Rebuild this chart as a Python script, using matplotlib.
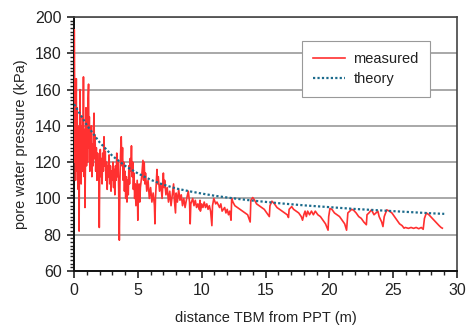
import matplotlib
matplotlib.use("Agg")
import matplotlib.pyplot as plt
from matplotlib.ticker import MultipleLocator

plt.rcParams['font.family'] = ['Liberation Sans', 'DejaVu Sans']

# measured pore water pressure (distance m, kPa)
meas_x = [0.00, 0.02, 0.04, 0.06, 0.08, 0.10, 0.12, 0.15, 0.18, 0.20, 0.23, 0.26, 0.30, 0.33, 0.36,
          0.40, 0.43, 0.47, 0.50, 0.53, 0.56, 0.60, 0.63, 0.66, 0.70, 0.74, 0.77, 0.80, 0.84, 0.86,
          0.90, 0.94, 0.98, 1.02, 1.06, 1.10, 1.14, 1.17, 1.20, 1.24, 1.28, 1.32, 1.36, 1.40, 1.45,
          1.50, 1.54, 1.57, 1.60, 1.65, 1.70, 1.75, 1.80, 1.85, 1.90, 1.95, 1.98, 2.02, 2.06, 2.10,
          2.15, 2.20, 2.25, 2.30, 2.35, 2.40, 2.45, 2.50, 2.55, 2.60, 2.65, 2.70, 2.75, 2.80, 2.85,
          2.90, 2.95, 3.00, 3.05, 3.10, 3.15, 3.20, 3.25, 3.30, 3.35, 3.40, 3.45, 3.50, 3.55, 3.60,
          3.65, 3.70, 3.75, 3.80, 3.85, 3.90, 3.95, 4.00, 4.05, 4.10, 4.15, 4.20, 4.25, 4.30, 4.35,
          4.40, 4.45, 4.50, 4.55, 4.60, 4.65, 4.70, 4.75, 4.80, 4.85, 4.90, 4.95, 5.00, 5.05, 5.10,
          5.15, 5.20, 5.30, 5.40, 5.45, 5.50, 5.55, 5.60, 5.70, 5.80, 5.90, 6.00, 6.10, 6.20, 6.30,
          6.34, 6.38, 6.45, 6.50, 6.55, 6.60, 6.70, 6.80, 6.90, 7.00, 7.05, 7.10, 7.20, 7.30, 7.40,
          7.50, 7.60, 7.70, 7.80, 7.85, 7.95, 8.00, 8.10, 8.20, 8.30, 8.40, 8.50, 8.60, 8.70, 8.80,
          8.95, 9.05, 9.10, 9.15, 9.30, 9.40, 9.50, 9.60, 9.70, 9.80, 9.87, 9.90, 10.00, 10.10, 10.20,
          10.30, 10.40, 10.50, 10.60, 10.70, 10.80, 10.85, 10.95, 11.10, 11.20, 11.40, 11.50, 11.60, 11.80, 11.90,
          12.00, 12.10, 12.20, 12.30, 12.35, 12.45, 12.60, 12.80, 13.00, 13.20, 13.40, 13.60, 13.80, 13.85, 14.00,
          14.15, 14.30, 14.50, 14.70, 14.90, 15.10, 15.30, 15.35, 15.50, 15.70, 15.90, 16.10, 16.30, 16.50, 16.70,
          16.80, 16.85, 17.05, 17.20, 17.40, 17.60, 17.80, 17.90, 18.00, 18.10, 18.20, 18.30, 18.45, 18.60, 18.75,
          18.90, 19.10, 19.30, 19.50, 19.70, 19.90, 19.95, 20.05, 20.20, 20.40, 20.60, 20.80, 21.00, 21.20, 21.35,
          21.45, 21.60, 21.75, 21.90, 22.10, 22.30, 22.50, 22.70, 22.90, 22.95, 23.10, 23.30, 23.50, 23.80, 23.90,
          24.10, 24.20, 24.30, 24.50, 24.70, 24.90, 25.10, 25.30, 25.50, 25.70, 25.85, 25.95, 26.20, 26.40, 26.60,
          26.80, 27.00, 27.20, 27.35, 27.45, 27.60, 27.80, 28.00, 28.20, 28.40, 28.60, 28.75, 28.85]
meas_y = [120, 193, 175, 150, 125, 140, 110, 135, 166, 130, 150, 115, 140, 105, 125,
          82, 130, 160, 120, 140, 108, 132, 115, 145, 125, 167, 130, 112, 138, 95,
          125, 150, 118, 140, 120, 155, 163, 128, 145, 115, 135, 120, 140, 112, 130,
          118, 140, 147, 122, 135, 115, 128, 110, 125, 115, 120, 84, 118, 127, 112,
          122, 108, 125, 115, 134, 118, 126, 110, 120, 105, 118, 112, 124, 108, 118,
          104, 115, 110, 120, 106, 116, 102, 118, 110, 125, 112, 120, 105, 77, 110,
          125, 134, 118, 128, 110, 120, 104, 115, 100, 112, 98, 110, 102, 118, 108,
          122, 115, 129, 112, 120, 105, 114, 100, 108, 96, 103, 110, 88, 104, 108,
          98, 106, 112, 121, 110, 120, 108, 114, 104, 110, 100, 106, 98, 103, 96,
          86, 100, 110, 116, 108, 112, 104, 108, 100, 114, 106, 110, 102, 106, 98,
          104, 96, 102, 108, 100, 92, 103, 98, 105, 99, 102, 96, 100, 95, 99,
          104, 98, 86, 97, 100, 96, 99, 95, 97, 94, 99, 93, 97, 95, 98,
          95, 97, 94, 96, 93, 85, 96, 100, 97, 98, 95, 97, 93, 95, 92,
          94, 91, 93, 88, 100, 98, 96, 95, 94, 93, 92, 91, 87, 99, 100.5,
          99, 97, 96, 95, 94, 92, 90, 96, 98.5, 97, 95, 94, 93, 92, 91,
          89.5, 94, 95.5, 94, 93, 92, 90, 88, 91, 93, 90, 93, 91, 93, 91,
          93, 91, 90, 88, 86, 82.5, 90, 94.5, 94, 92, 91, 90, 88, 86, 82.5,
          92, 93, 94, 93.5, 92, 90, 89, 87, 85.5, 91, 92, 93.7, 91, 93, 90,
          87, 84.5, 90, 93.7, 93, 92, 90, 88, 86, 85, 83.6, 84, 83.5, 84, 83.5,
          84, 83.3, 84, 83, 89, 92, 91, 89.5, 88, 86.5, 85, 84, 83.6]

# theoretical curve
theo_x = [0, 1, 2, 3, 4, 5, 6, 7, 8, 9, 10, 11, 12, 13, 14, 15, 16, 17, 18, 19,
          20, 21, 22, 23, 24, 25, 26, 27, 28, 29]
theo_y = [152, 140.5, 131, 123.5, 118, 113.8, 110.3, 107.6, 105.5, 104, 102.7, 101.5, 100.5, 99.6,
          98.8, 98.1, 97.4, 96.8, 96.2, 95.7, 95.2, 94.7, 94.2, 93.8, 93.4, 93.0, 92.6, 92.2, 91.8, 91.5]

fig = plt.figure(figsize=(4.66, 3.28), dpi=100)
ax = fig.add_axes([0.1588, 0.1738, 0.8219, 0.7742])

ax.plot(meas_x, meas_y, color='#ff3030', lw=1.2, label='measured', zorder=3)
ax.plot(theo_x, theo_y, color='#1c6b8c', lw=1.6, ls=(0, (1, 1)), label='theory', zorder=4)

ax.set_xlim(0, 30)
ax.set_ylim(60, 200)
ax.xaxis.set_major_locator(MultipleLocator(5))
ax.xaxis.set_minor_locator(MultipleLocator(1))
ax.yaxis.set_major_locator(MultipleLocator(20))
ax.yaxis.set_minor_locator(MultipleLocator(2))
ax.tick_params(axis='both', which='major', direction='out', length=5, width=1.2,
               labelsize=11.5, colors='#222222', pad=4)
ax.tick_params(axis='both', which='minor', direction='out', length=3, width=1.0, colors='#222222')
ax.tick_params(top=False, right=False)

ax.grid(axis='y', which='major', color='#a8a8a8', lw=1.4, zorder=1)
ax.set_axisbelow(True)
for side in ['left', 'bottom']:
    ax.spines[side].set_color('#111111')
    ax.spines[side].set_linewidth(1.4)
for side in ['top', 'right']:
    ax.spines[side].set_color('#444444')
    ax.spines[side].set_linewidth(1.2)

ax.set_xlabel('distance TBM from PPT (m)', fontsize=10.5, color='#222222', labelpad=9)
ax.set_ylabel('pore water pressure (kPa)', fontsize=10.5, color='#222222', labelpad=5)

leg = ax.legend(loc='upper right', bbox_to_anchor=(0.948, 0.934), fontsize=10.5,
                fancybox=False, framealpha=1, edgecolor='#999999',
                handlelength=2.2, handletextpad=0.6, borderpad=0.75, labelspacing=0.4)
leg.get_frame().set_linewidth(0.8)
for t in leg.get_texts():
    t.set_color('#222222')

fig.savefig('out.png', dpi=100)
